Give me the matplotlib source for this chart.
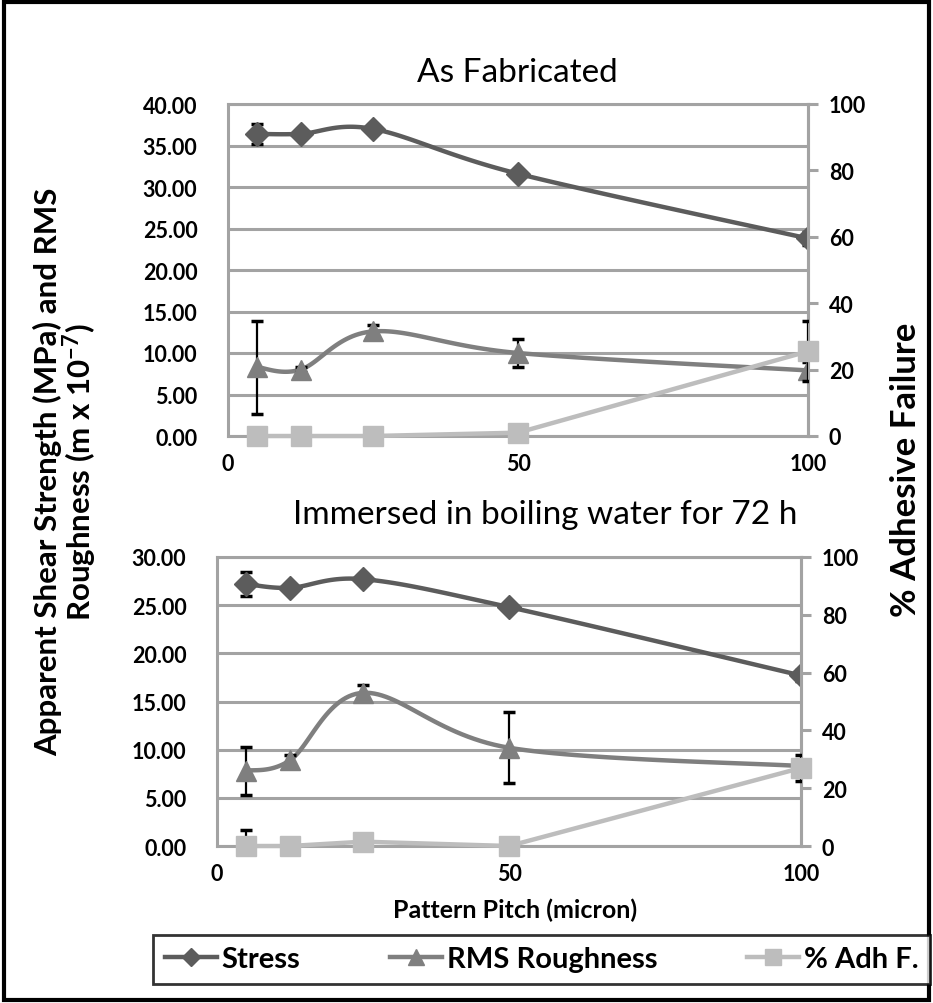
import numpy as np
import matplotlib
matplotlib.use("Agg")
import matplotlib.pyplot as plt
from matplotlib.lines import Line2D
from matplotlib.patches import Rectangle

plt.rcParams["font.family"] = ["Lato", "DejaVu Sans"]
plt.rcParams["mathtext.default"] = "regular"

# pattern pitch (micron)
pitch = [5, 12.5, 25, 50, 100]

# as fabricated
stress_fab = [36.4, 36.4, 37.0, 31.6, 23.8]
stress_fab_err = [1.2, 0.3, 0.3, 0.3, 0.8]
rms_fab = [8.3, 8.0, 12.6, 10.0, 7.9]
rms_fab_err = [5.6, 0.3, 0.8, 1.7, 1.0]
adh_fab = [0, 0, 0, 1, 25.5]
adh_fab_err = [0, 0, 0, 0, 9]

# immersed in boiling water 72 h
stress_boil = [27.2, 26.8, 27.7, 24.8, 17.7]
stress_boil_err = [1.2, 0.3, 0.3, 0.3, 0.6]
rms_boil = [7.8, 8.9, 15.9, 10.2, 8.3]
rms_boil_err = [2.5, 0.5, 0.8, 3.7, 0.5]
adh_boil = [0, 0, 1.5, 0, 27]
adh_boil_err = [5.5, 0, 0, 0, 4.5]

C_STRESS = "#5c5c5c"
C_RMS = "#7f7f7f"
C_ADH = "#bdbdbd"
GRID = "#a3a3a3"


def smooth(x, y, n=30):
    # excel style smoothed line (bezier through points)
    P = np.column_stack([x, y]).astype(float)
    out = [P[0]]
    t = np.linspace(0, 1, n)[1:, None]
    for i in range(len(P) - 1):
        p0 = P[i - 1] if i > 0 else P[i]
        p1, p2 = P[i], P[i + 1]
        p3 = P[i + 2] if i + 2 < len(P) else P[i + 1]
        c1 = p1 + (p2 - p0) / 6
        c2 = p2 - (p3 - p1) / 6
        seg = ((1 - t) ** 3) * p1 + 3 * ((1 - t) ** 2) * t * c1 + 3 * (1 - t) * t ** 2 * c2 + t ** 3 * p2
        out.extend(seg)
    out = np.array(out)
    return out[:, 0], out[:, 1]


def panel(rect, ymax, stress, s_err, rms, r_err, adh, a_err):
    ax = fig.add_axes(rect)
    ax.set_xlim(0, 100)
    ax.set_ylim(0, ymax)
    ax.set_yticks(np.arange(0, ymax + 1, 5))
    ax.set_yticklabels([f"{v:.2f}" for v in np.arange(0, ymax + 1, 5)])
    ax.set_xticks([0, 50, 100])
    ax.grid(axis="y", color=GRID, lw=2.2)
    ax.set_axisbelow(True)
    for side, sp in ax.spines.items():
        sp.set_color(GRID)
        sp.set_linewidth(2.2)
    ax.tick_params(axis="y", length=0, pad=22, labelsize=15.5)
    ax.tick_params(axis="x", length=0, pad=12, labelsize=15.5)
    for lab in ax.get_xticklabels() + ax.get_yticklabels():
        lab.set_fontweight("bold")

    ax2 = ax.twinx()
    ax2.set_ylim(0, 100)
    ax2.set_yticks(np.arange(0, 101, 20))
    ax2.tick_params(axis="y", length=7, width=2.2, color=GRID, labelsize=15.5, pad=8)
    for lab in ax2.get_yticklabels():
        lab.set_fontweight("bold")
    for sp in ax2.spines.values():
        sp.set_visible(False)
    ax2.spines["right"].set_visible(True)
    ax2.spines["right"].set_color(GRID)
    ax2.spines["right"].set_linewidth(2.2)

    xs, ys = smooth(pitch, stress)
    ax.plot(xs, ys, color=C_STRESS, lw=3.2, zorder=3)
    ax.errorbar(pitch, stress, yerr=s_err, fmt="none", ecolor="black", elinewidth=1.6, capsize=4, capthick=2.5, zorder=4)
    ax.plot(pitch, stress, "D", color=C_STRESS, ms=12.5, zorder=5)

    xs, ys = smooth(pitch, rms)
    ax.plot(xs, ys, color=C_RMS, lw=3.2, zorder=3)
    ax.errorbar(pitch, rms, yerr=r_err, fmt="none", ecolor="black", elinewidth=1.6, capsize=4, capthick=2.5, zorder=4)
    ax.plot(pitch, rms, "^", color=C_RMS, ms=14, zorder=5)

    ax2.plot(pitch, adh, color=C_ADH, lw=3.2, zorder=3, clip_on=False)
    ax2.errorbar(pitch, adh, yerr=a_err, fmt="none", ecolor="black", elinewidth=1.6, capsize=4, capthick=2.5, zorder=4)
    ax2.plot(pitch, adh, "s", color=C_ADH, ms=14, zorder=5, clip_on=False)
    return ax, ax2


fig = plt.figure(figsize=(9.33, 10.04), dpi=100)

panel([228 / 933, 1 - 437 / 1004, 580 / 933, 332 / 1004], 40,
      stress_fab, stress_fab_err, rms_fab, rms_fab_err, adh_fab, adh_fab_err)
panel([217 / 933, 1 - 847 / 1004, 584 / 933, 289 / 1004], 30,
      stress_boil, stress_boil_err, rms_boil, rms_boil_err, adh_boil, adh_boil_err)

fig.text(517 / 933, 1 - 73 / 1004, "As Fabricated", ha="center", va="center", fontsize=24)
fig.text(545 / 933, 1 - 515 / 1004, "Immersed in boiling water for 72 h", ha="center", va="center", fontsize=24)
fig.text(515 / 933, 1 - 910 / 1004, "Pattern Pitch (micron)", ha="center", va="center", fontsize=18, fontweight="bold")
fig.text(66 / 933, 1 - 472 / 1004, "Apparent Shear Strength (MPa) and RMS\nRoughness (m x 10$^{-7}$)",
         ha="center", va="center", rotation=90, fontsize=22.5, fontweight="bold",
         multialignment="center", linespacing=0.95)
fig.text(906 / 933, 1 - 470 / 1004, "% Adhesive Failure", ha="center", va="center", rotation=90,
         fontsize=25, fontweight="bold")

handles = [
    Line2D([], [], color=C_STRESS, lw=3.2, marker="D", ms=9),
    Line2D([], [], color=C_RMS, lw=3.2, marker="^", ms=11),
    Line2D([], [], color=C_ADH, lw=3.2, marker="s", ms=11),
]
leg = fig.legend(handles, ["Stress", "RMS Roughness", "% Adh F."], loc="lower left",
                 bbox_to_anchor=(153 / 933, 1 - 985 / 1004, (930 - 153) / 933, 53 / 1004),
                 mode="expand", ncol=3, fontsize=21, frameon=True, fancybox=False,
                 handlelength=1.8, handletextpad=0.15, borderaxespad=0)
leg.get_frame().set_edgecolor("black")
leg.get_frame().set_linewidth(2)
for t in leg.get_texts():
    t.set_fontweight("bold")

fig.patches.append(Rectangle((0.004, 0.003), 0.992, 0.994, transform=fig.transFigure,
                             fill=False, edgecolor="black", lw=3))

fig.savefig("out.png", dpi=100)
